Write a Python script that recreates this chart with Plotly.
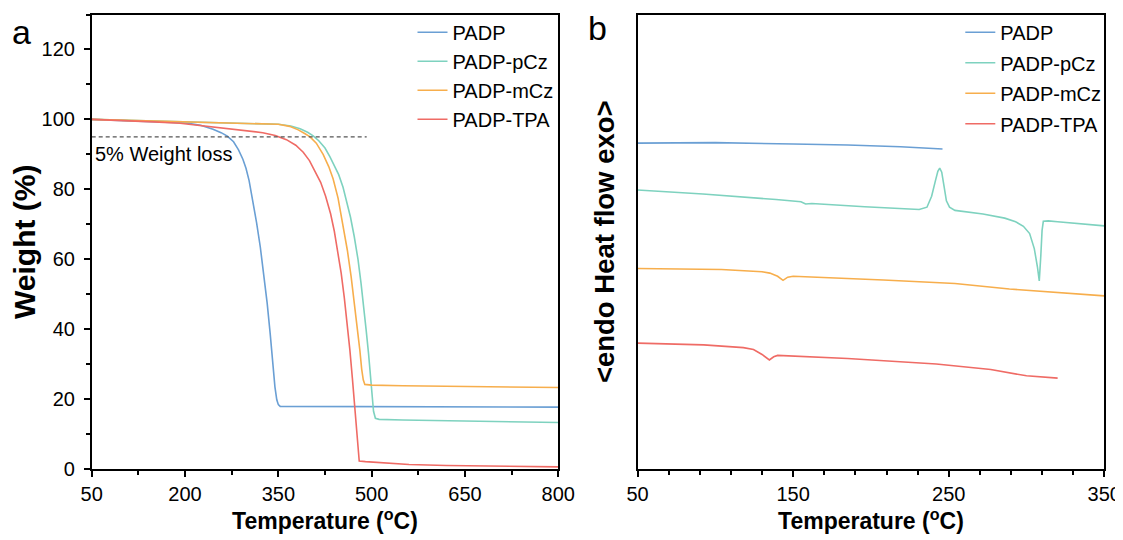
import plotly.graph_objects as go

# ---------------- Panel a: TGA ----------------
padp_T = [50, 100, 150, 200, 225, 245, 258, 268, 278, 286, 293, 298, 303, 309, 315, 321, 327, 332, 337, 341, 344.5, 347.5, 350, 353, 380, 450, 550, 650, 800]
padp_W = [100, 99.7, 99.4, 99.0, 98.3, 97.2, 96.2, 95.2, 93.6, 91.3, 88.6, 86.0, 82.5, 77.0, 70.5, 63.5, 55.5, 47.5, 38.5, 30.0, 23.5, 19.8, 18.4, 17.9, 17.9, 17.8, 17.7, 17.7, 17.7]

pcz_T = [50, 100, 150, 200, 250, 300, 350, 370, 385, 397, 406, 415, 425, 433, 440, 447, 454, 460, 466, 472, 478, 483, 487, 491, 495, 498, 501, 503, 506, 512, 550, 650, 800]
pcz_W = [100, 99.8, 99.6, 99.4, 99.2, 98.9, 98.6, 98.1, 97.3, 96.3, 95.3, 93.9, 91.8, 89.3, 86.8, 84.2, 80.6, 76.6, 72.0, 66.5, 60.0, 53.0, 47.0, 40.0, 33.0, 26.5, 20.0, 16.5, 14.5, 14.2, 14.0, 13.7, 13.3]

mcz_T = [50, 100, 150, 200, 250, 300, 350, 368, 382, 393, 401, 411, 422, 431, 438, 446, 454, 461, 467, 472, 477, 481, 484, 486.5, 489, 500, 550, 650, 800]
mcz_W = [100, 99.8, 99.6, 99.4, 99.2, 98.9, 98.6, 98.0, 97.0, 95.9, 95.0, 93.2, 90.0, 86.5, 83.0, 77.5, 70.0, 62.5, 55.0, 48.0, 41.0, 34.0, 28.5, 25.5, 24.2, 24.0, 23.8, 23.6, 23.3]

tpa_T = [50, 100, 150, 192, 230, 272, 300, 325, 345, 363, 378, 390, 400, 410, 418, 426, 434, 440, 446, 451, 456, 461, 465, 469, 472, 475, 477, 478.5, 480, 490, 520, 560, 620, 700, 800]
tpa_W = [100, 99.7, 99.3, 98.9, 98.1, 97.3, 96.8, 96.2, 95.4, 94.2, 92.6, 90.6, 88.2, 85.0, 82.0, 78.0, 73.0, 68.0, 62.0, 56.0, 49.0, 41.0, 34.0, 26.0, 19.0, 12.0, 7.0, 3.5, 2.3, 2.1, 1.8, 1.3, 1.0, 0.8, 0.6]

loss_T = [50, 492]
loss_W = [95, 95]

# ---------------- Panel b: DSC (arbitrary units) ----------------
d_padp_T = [50, 100, 150, 185, 219, 246]
d_padp_H = [71.7, 71.8, 71.5, 71.3, 70.9, 70.4]

d_pcz_T = [50, 92, 139, 155, 158, 162, 196, 231, 236, 239, 241.5, 243, 244.2, 245.5, 247, 248.5, 250.5, 254, 272, 286, 293, 298, 302, 305, 307, 308.2, 309.2, 310, 310.8, 314, 320, 328, 340, 350]
d_pcz_H = [61.4, 60.5, 59.3, 58.8, 58.3, 58.4, 57.7, 57.1, 57.6, 60.0, 63.5, 65.5, 66.2, 65.3, 62.2, 59.0, 57.6, 56.9, 56.1, 55.2, 54.4, 53.4, 51.8, 48.5, 44.5, 41.4, 47.0, 52.5, 54.5, 54.6, 54.4, 54.2, 53.9, 53.5]

d_mcz_T = [50, 104, 130, 135, 140, 143.5, 146.5, 150, 208, 254, 289, 350]
d_mcz_H = [44.1, 43.9, 43.4, 43.1, 42.4, 41.5, 42.2, 42.4, 41.6, 40.8, 39.6, 38.1]

d_tpa_T = [50, 92.5, 118, 124.5, 130, 134.7, 137.5, 140, 185, 242, 277, 300, 320]
d_tpa_H = [27.7, 27.3, 26.7, 26.3, 25.2, 24.0, 24.7, 25.0, 24.3, 23.1, 21.9, 20.5, 20.0]

names = ["PADP", "PADP-pCz", "PADP-mCz", "PADP-TPA"]
colors = ["#6A9FD4", "#7ED2BF", "#F7AE4C", "#EF6B65"]

FONT = "Liberation Sans, Arial, sans-serif"
LW = 1.6

fig = go.Figure()

tga = [(padp_T, padp_W), (pcz_T, pcz_W), (mcz_T, mcz_W), (tpa_T, tpa_W)]
for (t, w), n, c in zip(tga, names, colors):
    fig.add_trace(go.Scatter(x=t, y=w, mode="lines", name=n,
                             line=dict(color=c, width=LW),
                             xaxis="x", yaxis="y", legend="legend"))

fig.add_trace(go.Scatter(x=loss_T, y=loss_W, mode="lines", showlegend=False,
                         line=dict(color="#555555", width=1.2, dash="4px,3px"),
                         xaxis="x", yaxis="y"))

dsc = [(d_padp_T, d_padp_H), (d_pcz_T, d_pcz_H), (d_mcz_T, d_mcz_H), (d_tpa_T, d_tpa_H)]
for i, ((t, h), n, c) in enumerate(zip(dsc, names, colors)):
    fig.add_trace(go.Scatter(x=t, y=h, mode="lines", name=n,
                             line=dict(color=c, width=LW),
                             xaxis="x2", yaxis="y2", legend="legend2",
                             legendgroup="b%d" % i))

# the page body has an 8px margin: size the figure to the visible area
OFF = 8
W_, H_ = 1123 - OFF, 540 - OFF
def px(x):
    return (x - OFF) / W_
def py(y):
    return 1 - (y - OFF) / H_

axis_common = dict(showline=True, linecolor="black", linewidth=1.5, mirror=True,
                   showgrid=False, zeroline=False, ticks="outside", ticklen=6,
                   tickwidth=1.5, tickcolor="black", automargin=False,
                   tickfont=dict(family=FONT, size=20, color="black"))

fig.update_layout(
    width=W_, height=H_,
    margin=dict(l=0, r=0, t=0, b=0, autoexpand=False),
    paper_bgcolor="white", plot_bgcolor="white",
    font=dict(family=FONT, color="black"),
    xaxis=dict(domain=[px(91.7), px(558.3)], range=[50, 800], tick0=50, dtick=150,
               minor=dict(tick0=50, dtick=75, ticks="outside", ticklen=4, tickwidth=1.5, tickcolor="black"),
               title=dict(text="<b>Temperature (<sup>o</sup>C)</b>", font=dict(family=FONT, size=23), standoff=8),
               anchor="y", **axis_common),
    yaxis=dict(domain=[py(469), py(14.5)], range=[0, 130], tick0=0, dtick=20,
               minor=dict(tick0=0, dtick=10, ticks="outside", ticklen=4, tickwidth=1.5, tickcolor="black"),
               ticklabelstandoff=5,
               title=dict(text="<b>Weight (%)</b>", font=dict(family=FONT, size=30), standoff=2),
               anchor="x", **axis_common),
    xaxis2=dict(domain=[px(637.6), px(1104.3)], range=[50, 350], tick0=50, dtick=100,
                minor=dict(tick0=50, dtick=20, ticks="outside", ticklen=4, tickwidth=1.5, tickcolor="black"),
                title=dict(text="<b>Temperature (<sup>o</sup>C)</b>", font=dict(family=FONT, size=23), standoff=8),
                anchor="y2", **axis_common),
    yaxis2=dict(domain=[py(469), py(14.5)], range=[0, 100], showline=True, linecolor="black",
                linewidth=1.5, mirror=True, showgrid=False, zeroline=False, ticks="",
                showticklabels=False, automargin=False,
                title=dict(text="<b>&lt;endo Heat flow exo&gt;</b>", font=dict(family=FONT, size=27.5), standoff=13),
                anchor="x2"),
    legend=dict(x=px(412.5), y=py(12.7), xanchor="left", yanchor="top",
                bgcolor="rgba(0,0,0,0)", borderwidth=0,
                font=dict(family=FONT, size=20, color="black")),
    legend2=dict(x=px(960.3), y=py(12.7), xanchor="left", yanchor="top",
                 bgcolor="rgba(0,0,0,0)", borderwidth=0, traceorder="grouped",
                 tracegroupgap=1.5,
                 font=dict(family=FONT, size=20, color="black")),
    annotations=[
        dict(text="a", xref="paper", yref="paper", x=px(21), y=py(32.5), xanchor="center",
             yanchor="middle", showarrow=False, font=dict(family=FONT, size=34, color="black")),
        dict(text="b", xref="paper", yref="paper", x=px(597), y=py(28), xanchor="center",
             yanchor="middle", showarrow=False, font=dict(family=FONT, size=34, color="black")),
        dict(text="5% Weight loss", xref="x", yref="y", x=52, y=90, xanchor="left",
             yanchor="middle", showarrow=False, font=dict(family=FONT, size=20, color="black")),
    ],
)

fig.write_html("out.html")
